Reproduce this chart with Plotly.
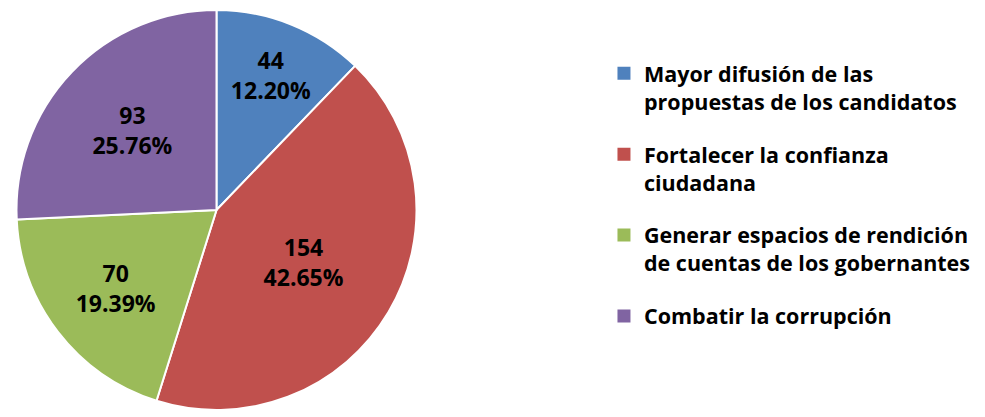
import plotly.graph_objects as go

categories = [
    "Mayor difusión de las<br>propuestas de los candidatos",
    "Fortalecer la confianza<br>ciudadana",
    "Generar espacios de rendición<br>de cuentas de los gobernantes",
    "Combatir la corrupción",
]
values = [44, 154, 70, 93]
percent_labels = ["12.20%", "42.65%", "19.39%", "25.76%"]
colors = ["#4F81BD", "#C0504D", "#9BBB59", "#8064A2"]

slice_text = [f"{v}<br>{p}" for v, p in zip(values, percent_labels)]

# figure sized to fit the window inside the page's 8px body margin
W, H = 977, 409

fig = go.Figure()
fig.add_trace(
    go.Pie(
        labels=categories,
        values=values,
        text=slice_text,
        textinfo="text",
        textposition="inside",
        insidetextorientation="horizontal",
        sort=False,
        direction="clockwise",
        rotation=0,
        marker=dict(colors=colors, line=dict(color="white", width=2)),
        textfont=dict(family="Open Sans", size=23, color="black", weight="bold"),
        domain=dict(x=[6 / W, 411 / W], y=[1 - 402 / H, 1 - 2 / H]),
        hoverinfo="label+value+percent",
        showlegend=False,
    )
)

# legend entries (one per slice), so the gap between entries can be set
for i, (cat, col) in enumerate(zip(categories, colors)):
    fig.add_trace(
        go.Scatter(
            x=[None], y=[None], mode="markers", name=cat,
            marker=dict(symbol="square", size=13, color=col),
            legendgroup=f"g{i}", showlegend=True, hoverinfo="skip",
        )
    )

fig.update_layout(
    width=W,
    height=H,
    margin=dict(l=0, r=0, t=0, b=0),
    paper_bgcolor="white",
    plot_bgcolor="white",
    showlegend=True,
    xaxis=dict(visible=False),
    yaxis=dict(visible=False),
    legend=dict(
        x=0.610, y=0.8905, xanchor="left", yanchor="top",
        valign="top",
        traceorder="grouped",
        tracegroupgap=22,
        font=dict(family="Open Sans", size=21.5, color="black", weight="bold"),
        itemwidth=30,
        bgcolor="rgba(0,0,0,0)",
    ),
)

fig.write_html("out.html")
